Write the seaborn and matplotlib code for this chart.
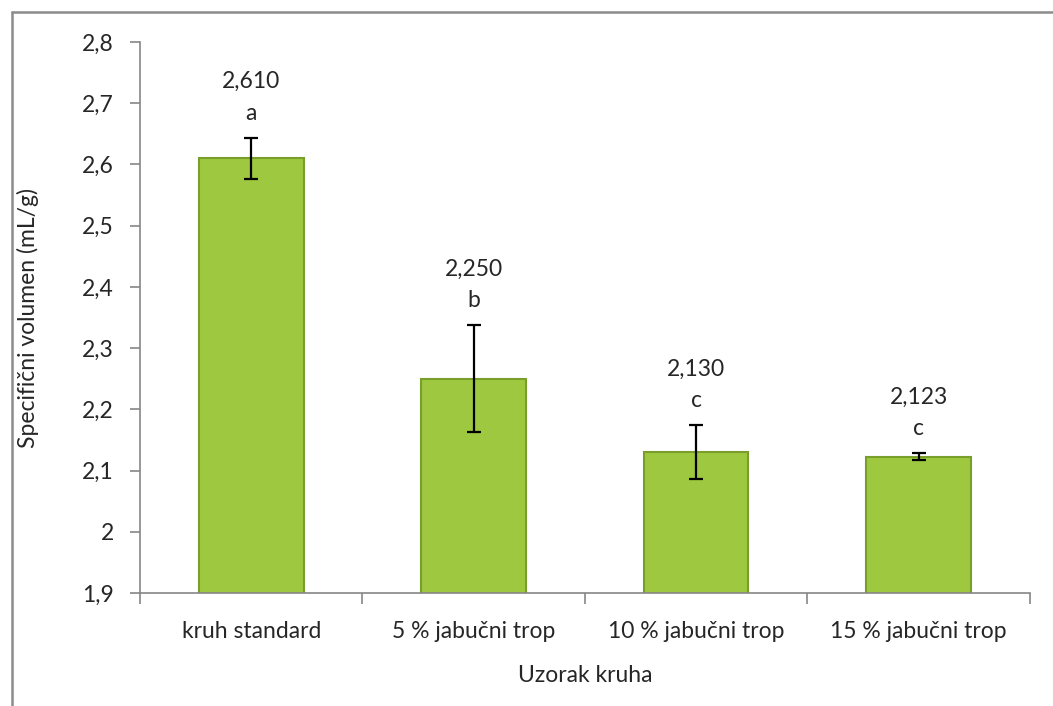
import numpy as np
import pandas as pd
import matplotlib
matplotlib.use('Agg')
import matplotlib.pyplot as plt
import seaborn as sns

# podaci
uzorci = ['kruh standard', '5 % jabučni trop', '10 % jabučni trop', '15 % jabučni trop']
volumen = [2.610, 2.250, 2.130, 2.123]
std_dev = [0.034, 0.087, 0.044, 0.005]
slova = ['a', 'b', 'c', 'c']
oznake = ['2,610', '2,250', '2,130', '2,123']
y_ticks = [1.9, 2.0, 2.1, 2.2, 2.3, 2.4, 2.5, 2.6, 2.7, 2.8]
y_tick_labels = ['1,9', '2', '2,1', '2,2', '2,3', '2,4', '2,5', '2,6', '2,7', '2,8']

df = pd.DataFrame({'uzorak': uzorci, 'volumen': volumen})

sns.set_style('white')
plt.rcParams['font.family'] = ['Lato', 'DejaVu Sans']
fs = 16.5

fig = plt.figure(figsize=(10.53, 7.06), dpi=100)
ax = fig.add_axes([0.133, 0.160, 0.845, 0.7805])

sns.barplot(data=df, x='uzorak', y='volumen', color='#9dc83f', saturation=1, width=0.47,
            edgecolor='#7a9e2c', linewidth=1.5, ax=ax)
ax.errorbar(range(len(uzorci)), volumen, yerr=std_dev, fmt='none',
            ecolor='black', elinewidth=1.6, capsize=5, capthick=1.6, zorder=5)

for i in range(len(uzorci)):
    vrh = volumen[i] + std_dev[i]
    ax.text(i, vrh + 0.092, oznake[i], ha='center', va='center', fontsize=fs)
    ax.text(i, vrh + 0.040, slova[i], ha='center', va='center', fontsize=fs)

ax.set_ylim(1.9, 2.8)
ax.set_xlim(-0.5, 3.5)
ax.set_yticks(y_ticks)
ax.set_yticklabels(y_tick_labels, fontsize=fs)
ax.set_xticks(range(len(uzorci)))
ax.set_xticklabels(uzorci, fontsize=fs)
ax.tick_params(axis='x', length=0, pad=20)
ax.tick_params(axis='y', length=7, width=1.2, color='#868686', pad=12, left=True)
# crtice izmedju kategorija
ax.set_xticks(np.arange(-0.5, 4.0, 1.0), minor=True)
ax.tick_params(axis='x', which='minor', length=8, width=1.2, color='#868686', bottom=True)

ax.set_xlabel('Uzorak kruha', fontsize=fs, labelpad=17)
ax.set_ylabel('Specifični volumen (mL/g)', fontsize=fs, labelpad=31)

for s in ['top', 'right']:
    ax.spines[s].set_visible(False)
for s in ['left', 'bottom']:
    ax.spines[s].set_color('#868686')
    ax.spines[s].set_linewidth(1.2)

# okvir grafikona
fig.add_artist(plt.Line2D([12/1053, 12/1053], [0, 1 - 12/706], color='#8c8c8c', lw=1.8, transform=fig.transFigure))
fig.add_artist(plt.Line2D([12/1053, 1], [1 - 12/706, 1 - 12/706], color='#8c8c8c', lw=1.8, transform=fig.transFigure))

plt.savefig('out.png', dpi=100)
